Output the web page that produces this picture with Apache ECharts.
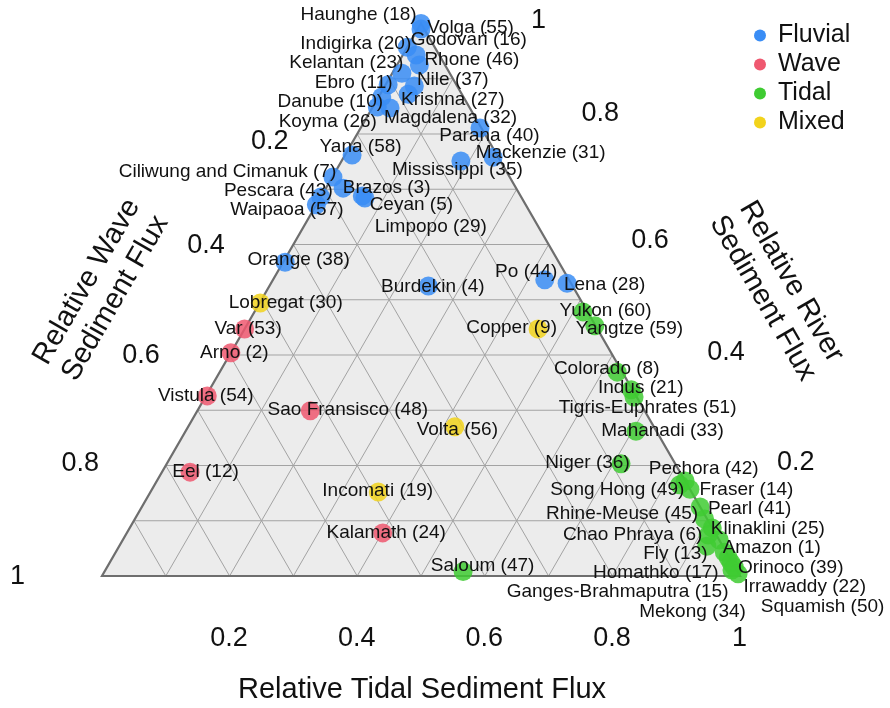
<!DOCTYPE html>
<html>
<head>
<meta charset="utf-8">
<script src="https://cdn.jsdelivr.net/npm/echarts@6/dist/echarts.min.js"></script>
<style>
  html, body { margin: 0; padding: 0; background: #ffffff; }
  #chart { width: 890px; height: 708px; }
</style>
</head>
<body>
<div id="chart"></div>
<script>
const FONT = '"Liberation Sans", Arial, Helvetica, sans-serif';

// ---- Sediment flux fractions per delta: river (fluvial), wave, tidal ----
const fluvialNames = ['Haunghe (18)', 'Volga (55)', 'Indigirka (20)', 'Godovari (16)', 'Kelantan (23)', 'Rhone (46)',
  'Ebro (11)', 'Nile (37)', 'Danube (10)', 'Krishna (27)', 'Koyma (26)', 'Magdalena (32)', 'Parana (40)',
  'Mackenzie (31)', 'Mississippi (35)', 'Yana (58)', 'Ciliwung and Cimanuk (7)', 'Brazos (3)', 'Pescara (43)',
  'Waipaoa (57)', 'Ceyan (5)', 'Limpopo (29)', 'Orange (38)', 'Burdekin (4)', 'Po (44)', 'Lena (28)'];
const fluvialRiver = [1.000, 0.990, 0.957, 0.943, 0.910, 0.925, 0.889, 0.887, 0.867, 0.872, 0.849, 0.847, 0.811,
  0.758, 0.751, 0.762, 0.722, 0.702, 0.686, 0.672, 0.684, 0.688, 0.568, 0.525, 0.536, 0.530];
const fluvialWave = [0.000, 0.005, 0.043, 0.036, 0.075, 0.040, 0.107, 0.067, 0.128, 0.084, 0.144, 0.125, 0.002,
  0.008, 0.062, 0.227, 0.277, 0.271, 0.314, 0.328, 0.246, 0.248, 0.429, 0.226, 0.038, 0.006];
const fluvialTidal = [0.000, 0.005, 0.000, 0.021, 0.015, 0.035, 0.004, 0.046, 0.005, 0.044, 0.007, 0.028, 0.187,
  0.234, 0.187, 0.011, 0.001, 0.027, 0.000, 0.000, 0.070, 0.064, 0.003, 0.249, 0.426, 0.464];

const waveNames = ['Var (53)', 'Arno (2)', 'Vistula (54)', 'Sao Fransisco (48)', 'Eel (12)', 'Kalamath (24)'];
const waveRiver = [0.447, 0.404, 0.326, 0.299, 0.188, 0.078];
const waveWave = [0.553, 0.596, 0.672, 0.524, 0.768, 0.521];
const waveTidal = [0.000, 0.000, 0.002, 0.177, 0.044, 0.401];

const tidalNames = ['Yukon (60)', 'Yangtze (59)', 'Colorado (8)', 'Indus (21)', 'Tigris-Euphrates (51)',
  'Mahanadi (33)', 'Niger (36)', 'Pechora (42)', 'Song Hong (49)', 'Fraser (14)', 'Pearl (41)',
  'Rhine-Meuse (45)', 'Klinaklini (25)', 'Chao Phraya (6)', 'Amazon (1)', 'Fly (13)', 'Homathko (17)',
  'Orinoco (39)', 'Ganges-Brahmaputra (15)', 'Irrawaddy (22)', 'Mekong (34)', 'Squamish (50)', 'Saloum (47)'];
const tidalRiver = [0.478, 0.453, 0.369, 0.337, 0.324, 0.262, 0.203, 0.172, 0.165, 0.157, 0.125, 0.103, 0.087,
  0.074, 0.065, 0.054, 0.043, 0.033, 0.024, 0.016, 0.011, 0.004, 0.008];
const tidalWave = [0.007, 0.001, 0.008, 0.002, 0.004, 0.032, 0.085, 0.000, 0.012, 0.000, 0.000, 0.004, 0.000,
  0.013, 0.000, 0.025, 0.003, 0.002, 0.002, 0.001, 0.007, 0.001, 0.430];
const tidalTidal = [0.515, 0.546, 0.623, 0.661, 0.672, 0.706, 0.712, 0.828, 0.823, 0.843, 0.875, 0.893, 0.913,
  0.913, 0.935, 0.921, 0.954, 0.965, 0.974, 0.983, 0.982, 0.995, 0.562];

const mixedNames = ['Lobregat (30)', 'Copper (9)', 'Volta (56)', 'Incomati (19)'];
const mixedRiver = [0.494, 0.447, 0.270, 0.152];
const mixedWave = [0.505, 0.093, 0.312, 0.491];
const mixedTidal = [0.001, 0.460, 0.418, 0.357];

// ---- Axis tick values and grid spacing ----
const tickValues = [0.2, 0.4, 0.6, 0.8, 1];
const tickLabels = ['0.2', '0.4', '0.6', '0.8', '1'];
const gridSteps = [0.1, 0.2, 0.3, 0.4, 0.5, 0.6, 0.7, 0.8, 0.9];

// ---- Label placement (pixel offset of each name from its marker) ----
const fluvialLabelOffsets = [[-62, -8], [50, -1], [-51, -3], [53, -15], [-55, -10], [53, -5], [-34, -2], [39, -6],
  [-51, 5], [45, 6], [-49, 15], [61, 10], [10, 8], [48, -4], [-3, 9], [9, -8], [-105, -5], [44, 0], [-42, -6],
  [-29, 6], [47, 7], [69, 31], [14, -2], [5, 1], [-18, -8], [38, 2]];
const waveLabelOffsets = [[4, 0], [4, 0], [-1, 0], [38, -1], [16, 0], [4, 0]];
const tidalLabelOffsets = [[23, -1], [35, 4], [-10, -3], [10, -2], [14, 11], [27, 0], [-33, -1], [19, -12],
  [-62, 5], [57, 1], [50, 2], [-82, -5], [56, 1], [-75, 0], [53, 8], [-31, 8], [-68, 21], [63, 10],
  [-113, 30], [71, 20], [-39, 42], [85, 33], [20, -5]];
const mixedLabelOffsets = [[26, 0], [-26, -1], [3, 3], [0, -1]];

const bottomTickOffset = [0, 63];
const leftTickOffsets = [[-87, 8], [-87, 2], [-88, 1], [-85, -1], [-84, 1]];
const rightTickOffsets = [[120, -2], [114, -2], [102, -3], [116, -20], [118, -2]];

// ---- Ternary -> cartesian: wave corner at (0,0), tidal corner at (1,0), river corner on top ----
const H = Math.sqrt(3) / 2;
function toXY(r, w, t) {
  const s = r + w + t;
  return [(t + r / 2) / s, (r / s) * H];
}

const COLORS = { Fluvial: '#3a8df5', Wave: '#ef5870', Tidal: '#3fcb32', Mixed: '#f2d31c' };

function pointSeries(name, river, wave, tidal, names) {
  return {
    name: name,
    type: 'scatter',
    clip: false,
    symbol: 'circle',
    symbolSize: 19,
    z: 3,
    itemStyle: { color: COLORS[name], opacity: 0.85 },
    emphasis: { disabled: true },
    silent: true,
    data: names.map((n, i) => ({ name: n, value: toXY(river[i], wave[i], tidal[i]) }))
  };
}

function labelData(river, wave, tidal, names, offsets) {
  return names.map((n, i) => ({
    name: n,
    value: toXY(river[i], wave[i], tidal[i]),
    label: { position: offsets[i] }
  }));
}

const allLabels = [].concat(
  labelData(fluvialRiver, fluvialWave, fluvialTidal, fluvialNames, fluvialLabelOffsets),
  labelData(waveRiver, waveWave, waveTidal, waveNames, waveLabelOffsets),
  labelData(tidalRiver, tidalWave, tidalTidal, tidalNames, tidalLabelOffsets),
  labelData(mixedRiver, mixedWave, mixedTidal, mixedNames, mixedLabelOffsets)
);

// tick labels along the three triangle edges
const tickData = [];
tickValues.forEach((v, i) => {
  tickData.push({ name: tickLabels[i], value: toXY(0, 1 - v, v), label: { position: bottomTickOffset } });
  tickData.push({ name: tickLabels[i], value: toXY(1 - v, v, 0), label: { position: leftTickOffsets[i] } });
  tickData.push({ name: tickLabels[i], value: toXY(v, 0, 1 - v), label: { position: rightTickOffsets[i] } });
});

function renderFrame(params, api) {
  const A = api.coord(toXY(0, 1, 0));
  const B = api.coord(toXY(0, 0, 1));
  const C = api.coord(toXY(1, 0, 0));
  const children = [{
    type: 'polygon', shape: { points: [A, B, C] }, style: { fill: '#ececec', stroke: null }
  }];
  gridSteps.forEach(v => {
    const segs = [
      [toXY(v, 1 - v, 0), toXY(v, 0, 1 - v)],      // constant river
      [toXY(0, 1 - v, v), toXY(1 - v, 0, v)],      // constant tidal
      [toXY(0, v, 1 - v), toXY(1 - v, v, 0)]       // constant wave
    ];
    segs.forEach(s => {
      const p = api.coord(s[0]);
      const q = api.coord(s[1]);
      children.push({
        type: 'line',
        shape: { x1: p[0], y1: p[1], x2: q[0], y2: q[1] },
        style: { stroke: '#a3a3a3', lineWidth: 1 }
      });
    });
  });
  children.push({
    type: 'polygon', shape: { points: [A, B, C] }, style: { fill: null, stroke: '#6e6e6e', lineWidth: 2.2, lineJoin: 'miter' }
  });
  return { type: 'group', children: children };
}

const textSeriesBase = {
  type: 'scatter',
  clip: false,
  symbolSize: 1,
  itemStyle: { color: 'rgba(0,0,0,0)', opacity: 1 },
  z: 5,
  silent: true,
  emphasis: { disabled: true }
};

const chart = echarts.init(document.getElementById('chart'), null, { renderer: 'canvas' });

chart.setOption({
  animation: false,
  backgroundColor: '#ffffff',
  grid: { left: 102, top: 23.5, width: 638, height: 552.5, containLabel: false, outerBoundsMode: 'none' },
  xAxis: { type: 'value', min: 0, max: 1, show: false },
  yAxis: { type: 'value', min: 0, max: H, show: false },
  legend: {
    orient: 'vertical',
    left: 749,
    top: 18,
    icon: 'circle',
    itemWidth: 12,
    itemHeight: 12,
    itemGap: 4,
    itemStyle: { opacity: 1 },
    textStyle: { fontFamily: FONT, fontSize: 25, lineHeight: 25, color: '#111111', padding: [0, 0, 0, 7] },
    data: ['Fluvial', 'Wave', 'Tidal', 'Mixed']
  },
  series: [
    {
      type: 'custom',
      coordinateSystem: 'cartesian2d',
      silent: true,
      z: 1,
      clip: false,
      data: [[0.5, 0.4]],
      renderItem: renderFrame
    },
    pointSeries('Fluvial', fluvialRiver, fluvialWave, fluvialTidal, fluvialNames),
    pointSeries('Wave', waveRiver, waveWave, waveTidal, waveNames),
    pointSeries('Tidal', tidalRiver, tidalWave, tidalTidal, tidalNames),
    pointSeries('Mixed', mixedRiver, mixedWave, mixedTidal, mixedNames),
    Object.assign({}, textSeriesBase, {
      name: 'names',
      label: {
        show: true, formatter: '{b}', opacity: 1,
        fontFamily: FONT, fontSize: 19, color: '#111111', align: 'center', verticalAlign: 'middle'
      },
      data: allLabels
    }),
    Object.assign({}, textSeriesBase, {
      name: 'ticks',
      label: {
        show: true, formatter: '{b}', opacity: 1,
        fontFamily: FONT, fontSize: 27, color: '#111111', align: 'center', verticalAlign: 'middle'
      },
      data: tickData
    })
  ],
  graphic: [
    {
      type: 'text', x: 422, y: 690, silent: true,
      style: { text: 'Relative Tidal Sediment Flux', fontFamily: FONT, fontSize: 29, fill: '#111111', align: 'center', verticalAlign: 'middle' }
    },
    {
      type: 'text', x: 101, y: 290, rotation: Math.PI / 3, silent: true,
      style: { text: 'Relative Wave\nSediment Flux', fontFamily: FONT, fontSize: 29, lineHeight: 33, fill: '#111111', align: 'center', verticalAlign: 'middle' }
    },
    {
      type: 'text', x: 777, y: 290, rotation: -Math.PI / 3, silent: true,
      style: { text: 'Relative River\nSediment Flux', fontFamily: FONT, fontSize: 29, lineHeight: 33, fill: '#111111', align: 'center', verticalAlign: 'middle' }
    }
  ]
});
</script>
</body>
</html>
